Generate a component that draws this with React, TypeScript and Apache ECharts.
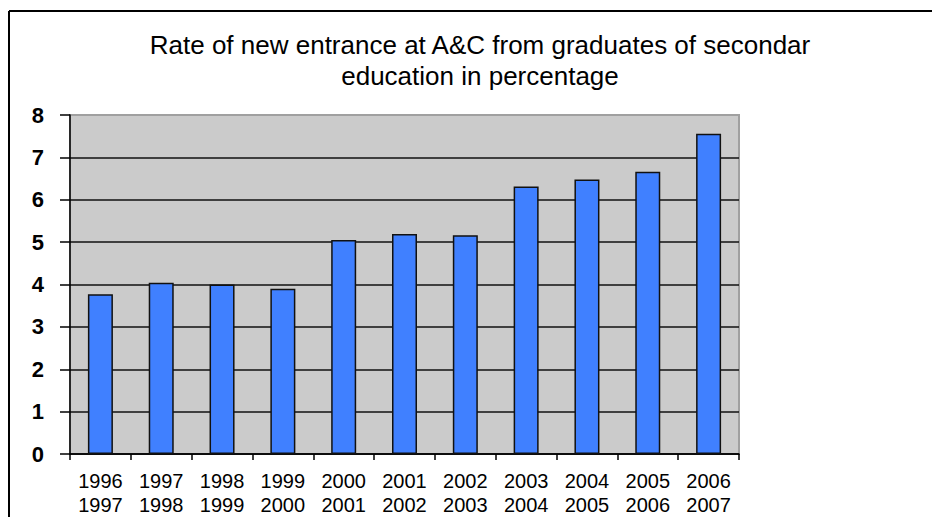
import React, { useEffect, useRef } from "react";
import * as echarts from "echarts";

// School years (start / end) for each bar
const categories = [
  "1996\n1997",
  "1997\n1998",
  "1998\n1999",
  "1999\n2000",
  "2000\n2001",
  "2001\n2002",
  "2002\n2003",
  "2003\n2004",
  "2004\n2005",
  "2005\n2006",
  "2006\n2007",
];

// Rate of new entrants, percent
const rates = [3.77, 4.04, 4.0, 3.9, 5.05, 5.19, 5.16, 6.31, 6.48, 6.66, 7.56];

const titleLines = [
  "Rate of new entrance at A&C from graduates of secondar",
  "education in percentage",
];

const FONT = '"Liberation Sans", Arial, Helvetica, sans-serif';

export default function App() {
  const ref = useRef<HTMLDivElement>(null);

  useEffect(() => {
    if (!ref.current) return;
    const chart = echarts.init(ref.current, undefined, { renderer: "svg" });
    chart.setOption({
      animation: false,
      backgroundColor: "#ffffff",
      textStyle: { fontFamily: FONT },
      graphic: [
        {
          type: "line",
          shape: { x1: 9, y1: 11, x2: 932, y2: 11 },
          style: { stroke: "#000", lineWidth: 2 },
        },
        {
          type: "line",
          shape: { x1: 9, y1: 11, x2: 9, y2: 517 },
          style: { stroke: "#000", lineWidth: 2 },
        },
        {
          type: "text",
          x: 480,
          y: 60,
          style: {
            text: titleLines.join("\n"),
            fill: "#000",
            font: `26px ${FONT}`,
            lineHeight: 31,
            align: "center",
            verticalAlign: "middle",
          },
        },
      ],
      grid: {
        left: 70,
        top: 115,
        right: 193,
        bottom: 63,
        show: true,
        backgroundColor: "#cbcbcb",
        borderColor: "#a0a0a0",
        borderWidth: 2,
      },
      xAxis: {
        type: "category",
        data: categories,
        boundaryGap: true,
        axisLine: { show: true, lineStyle: { color: "#000", width: 1.5 } },
        axisTick: {
          show: true,
          alignWithLabel: false,
          length: 6,
          lineStyle: { color: "#000", width: 1.5 },
        },
        axisLabel: {
          color: "#000",
          fontSize: 20,
          lineHeight: 24,
          margin: 15,
          fontFamily: FONT,
          interval: 0,
        },
        splitLine: { show: false },
      },
      yAxis: {
        type: "value",
        min: 0,
        max: 8,
        interval: 1,
        axisLine: { show: true, lineStyle: { color: "#000", width: 1.5 } },
        axisTick: {
          show: true,
          length: 10,
          lineStyle: { color: "#000", width: 1.5 },
        },
        axisLabel: {
          color: "#000",
          fontSize: 22,
          fontWeight: "bold",
          margin: 26,
          fontFamily: FONT,
        },
        splitLine: {
          show: true,
          showMaxLine: false,
          lineStyle: { color: "#111", width: 1.5 },
        },
      },
      series: [
        {
          type: "bar",
          data: rates,
          barWidth: 25,
          itemStyle: {
            color: "#4080ff",
            borderColor: "#111",
            borderWidth: 1.5,
          },
        },
      ],
    });
    return () => chart.dispose();
  }, []);

  return (
    <div
      ref={ref}
      style={{ position: "absolute", left: 0, top: 0, width: 932, height: 517 }}
    />
  );
}
